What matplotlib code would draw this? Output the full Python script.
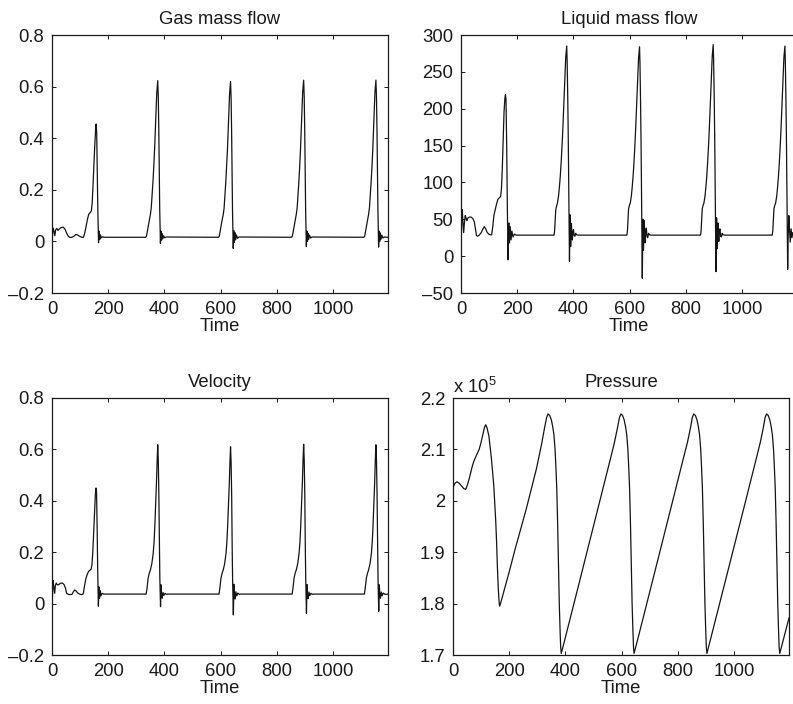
import numpy as np
import matplotlib
matplotlib.use("Agg")
import matplotlib.pyplot as plt
from matplotlib.ticker import FuncFormatter

plt.rcParams['font.family'] = ['Liberation Sans', 'DejaVu Sans']
plt.rcParams['mathtext.default'] = 'regular'

# =====================================================================
#  Data read off the picture : (time, value) pairs
# =====================================================================

gas_flow = [
    # start-up + first spike
    (0, -0.04), (1.5, 0.02), (4, 0.052), (7, 0.04), (10, 0.022), (13, 0.045), (17, 0.05),
    (21, 0.043), (26, 0.048), (33, 0.054), (40, 0.055), (46, 0.048), (52, 0.032), (58, 0.02),
    (64, 0.015), (70, 0.016), (78, 0.02), (85, 0.027), (91, 0.025), (98, 0.02), (106, 0.016),
    (112, 0.016), (117, 0.035), (122, 0.063), (127, 0.09), (131, 0.106), (136, 0.112),
    (140, 0.118), (143, 0.15), (146, 0.22), (149, 0.3), (152, 0.37), (155, 0.43), (157, 0.455),
    (159, 0.42), (161, 0.28), (163, 0.12), (165.5, -0.005), (167.5, 0.04), (170, 0.008),
    (172.5, 0.025), (175.5, 0.014), (180, 0.018), (186, 0.016),
    # cycle 2
    (333, 0.016), (336, 0.02), (340, 0.045), (344, 0.07), (350, 0.105), (353, 0.13), (356, 0.18),
    (359, 0.23), (362, 0.29), (365, 0.36), (368, 0.445), (372.5, 0.574), (376, 0.623),
    (378, 0.56), (380, 0.42), (383, 0.13), (385.6, -0.008), (387.5, 0.04), (389.5, 0.005),
    (391.5, 0.03), (394, 0.01), (397, 0.022), (401, 0.014), (406, 0.017),
    # cycle 3
    (592, 0.016), (595, 0.02), (599, 0.046), (603, 0.071), (609, 0.104), (612, 0.128),
    (615, 0.178), (618, 0.228), (621, 0.288), (624, 0.355), (627, 0.44), (631.5, 0.57),
    (635, 0.62), (637, 0.555), (639, 0.41), (642, 0.12), (644.6, -0.027), (646.5, 0.042),
    (648.5, -0.004), (650.5, 0.034), (653, 0.006), (656, 0.025), (660, 0.012), (665, 0.017),
    # cycle 4
    (852, 0.016), (855, 0.021), (859, 0.045), (863, 0.07), (869, 0.106), (872, 0.131),
    (875, 0.182), (878, 0.232), (881, 0.292), (884, 0.362), (887, 0.448), (891.5, 0.578),
    (895, 0.625), (897, 0.56), (899, 0.415), (902, 0.125), (904.6, -0.02), (906.5, 0.04),
    (908.5, 0.0), (910.5, 0.032), (913, 0.008), (916, 0.024), (920, 0.013), (925, 0.017),
    # cycle 5
    (1109, 0.016), (1112, 0.02), (1116, 0.045), (1120, 0.07), (1126, 0.105), (1129, 0.13),
    (1132, 0.18), (1135, 0.23), (1138, 0.29), (1141, 0.36), (1144, 0.445), (1148.5, 0.575),
    (1152, 0.625), (1154, 0.56), (1156, 0.42), (1159, 0.13), (1161.6, -0.022), (1163.5, 0.04),
    (1165.5, 0.0), (1167.5, 0.033), (1170, 0.008), (1173, 0.024), (1177, 0.013), (1182, 0.017),
    (1195, 0.016),
]

liquid_flow = [
    (0, -30), (1, 20), (2.5, 55), (4.5, 63), (7, 45), (9.5, 32), (12, 45), (15, 55), (18, 52),
    (21, 48), (25, 52), (30, 53), (36, 53), (42, 51), (47, 47), (51, 38), (55, 28), (60, 27),
    (66, 29), (72, 32), (78, 37), (83, 40), (88, 37), (92, 33), (98, 30), (104, 29), (109, 29),
    (113, 40), (117, 55), (121, 62), (126, 70), (131, 77), (136, 79), (141, 81), (144, 92),
    (147, 120), (150, 160), (153, 195), (156, 214), (158, 219), (160, 213), (162.5, 150),
    (165, 60), (167.5, -5), (170, 45), (172.5, 18), (175, 40), (178, 22), (181, 34), (185, 26),
    (190, 30), (196, 28.5),
    # cycle 2
    (331, 28.5), (333, 35), (335, 50), (337, 63), (340, 68), (343, 72), (347, 82), (350, 94),
    (353, 108), (356, 126), (359, 147), (362, 171), (365, 200), (368, 230), (372.5, 270),
    (376, 285), (377.5, 265), (379.6, 216), (381.5, 160), (383, 103), (384.5, 40), (385.8, -7),
    (387, 30), (388, 56), (389, 35), (390, 13), (391.5, 30), (392.7, 44.5), (394, 32), (396, 22),
    (398, 33), (400, 36), (402.5, 28), (405, 27), (408, 31), (411, 29), (416, 28.5),
    # cycle 3
    (590, 28.5), (592, 35), (594, 50), (596, 64), (599, 69), (602, 72), (606, 82), (609, 94),
    (612, 108), (615, 126), (618, 147), (621, 171), (624, 200), (627, 230), (631.5, 269),
    (635, 284), (636.5, 262), (638.6, 210), (640.5, 150), (642, 90), (643.5, 20), (644.8, -30),
    (646, 20), (647, 50), (648, 30), (649, 8), (650.5, 28), (651.7, 48), (653, 33), (655, 18),
    (657, 34), (659, 38), (661.5, 27), (664, 25), (667, 31), (670, 29), (675, 28.5),
    # cycle 4
    (852, 28.5), (854, 35), (856, 50), (858, 64), (861, 69), (864, 72), (868, 82), (871, 94),
    (874, 108), (877, 126), (880, 147), (883, 171), (886, 200), (889, 231), (893.5, 271),
    (897, 287), (898.5, 265), (900.6, 214), (902.5, 155), (904, 95), (905.5, 30), (906.8, -21),
    (908, 25), (909, 52), (910, 32), (911, 10), (912.5, 29), (913.7, 45), (915, 32), (917, 20),
    (919, 34), (921, 37), (923.5, 27), (926, 26), (929, 31), (932, 29), (937, 28.5),
    # cycle 5
    (1107, 28.5), (1109, 35), (1111, 50), (1113, 64), (1116, 69), (1119, 72), (1123, 82),
    (1126, 94), (1129, 108), (1132, 126), (1135, 147), (1138, 171), (1141, 200), (1144, 230),
    (1148.5, 270), (1152, 285), (1153.5, 264), (1155.6, 214), (1157.5, 155), (1159, 95),
    (1160.5, 30), (1161.8, -18), (1163.5, 25), (1166, 55), (1168.5, 35), (1171, 19),
    (1174, 37), (1177, 25), (1180, 32), (1184, 27), (1189, 30), (1195, 28.5),
]

velocity = [
    (0, -0.05), (1.5, 0.03), (4, 0.09), (6.5, 0.065), (9.5, 0.04), (12, 0.07), (15, 0.08),
    (19, 0.073), (24, 0.074), (30, 0.079), (37, 0.08), (43, 0.074), (48, 0.06), (52, 0.04),
    (58, 0.036), (64, 0.035), (71, 0.036), (76, 0.046), (80, 0.053), (85, 0.05), (91, 0.042),
    (98, 0.037), (105, 0.035), (111, 0.037), (115, 0.065), (120, 0.095), (125, 0.113),
    (130, 0.125), (135, 0.13), (139, 0.134), (142, 0.15), (145, 0.2), (148, 0.27), (151, 0.35),
    (154, 0.42), (156.5, 0.45), (158.5, 0.43), (160.5, 0.3), (162.5, 0.13), (165, -0.01),
    (167, 0.065), (169, 0.02), (171.5, 0.05), (174, 0.03), (178, 0.04), (184, 0.037),
    # cycle 2
    (335, 0.037), (338, 0.06), (342, 0.099), (346, 0.118), (350, 0.131), (355, 0.155),
    (360, 0.196), (363, 0.24), (365.6, 0.3), (368.5, 0.38), (371.5, 0.469), (374, 0.56),
    (376, 0.618), (378, 0.56), (380, 0.43), (382, 0.22), (383.5, 0.1), (386, -0.012),
    (388, 0.073), (390, 0.035), (392, 0.021), (395, 0.043), (398, 0.032), (402, 0.04),
    (407, 0.036), (412, 0.037),
    # cycle 3
    (594, 0.037), (597, 0.06), (601, 0.099), (605, 0.118), (609, 0.131), (614, 0.155),
    (619, 0.196), (622, 0.24), (624.6, 0.3), (627.5, 0.38), (630.5, 0.465), (633, 0.555),
    (635, 0.61), (637, 0.55), (639, 0.42), (641, 0.2), (642.5, 0.08), (645, -0.044),
    (647, 0.075), (649, 0.03), (651, 0.018), (654, 0.046), (657, 0.03), (661, 0.041),
    (666, 0.036), (671, 0.037),
    # cycle 4
    (854, 0.037), (857, 0.06), (861, 0.1), (865, 0.119), (869, 0.132), (874, 0.156),
    (879, 0.198), (882, 0.242), (884.6, 0.302), (887.5, 0.383), (890.5, 0.472), (893, 0.563),
    (895, 0.62), (897, 0.56), (899, 0.43), (901, 0.21), (902.5, 0.09), (905, -0.038),
    (907, 0.074), (909, 0.03), (911, 0.02), (914, 0.045), (917, 0.031), (921, 0.04),
    (926, 0.036), (931, 0.037),
    # cycle 5
    (1111, 0.037), (1114, 0.06), (1118, 0.099), (1122, 0.118), (1126, 0.131), (1131, 0.155),
    (1136, 0.196), (1139, 0.24), (1141.6, 0.3), (1144.5, 0.38), (1147.5, 0.469), (1150, 0.56),
    (1152, 0.618), (1154, 0.56), (1156, 0.43), (1158, 0.22), (1159.5, 0.1), (1162, -0.03),
    (1164, 0.073), (1166, 0.035), (1168, 0.021), (1171, 0.045), (1174, 0.03), (1178, 0.041),
    (1184, 0.036), (1195, 0.037),
]

# pressure in units of 1e5
pressure = [
    (0, 2.026), (7, 2.034), (14, 2.037), (22, 2.034), (30, 2.029), (38, 2.024), (45, 2.022),
    (52, 2.032), (60, 2.048), (67, 2.064), (74, 2.077), (83, 2.088), (93, 2.1), (100, 2.114),
    (107, 2.131), (112, 2.143), (116.5, 2.148), (121, 2.142), (128, 2.125), (133, 2.1),
    (137, 2.08), (141, 2.055), (145, 2.03), (149, 1.99), (152, 1.96), (155, 1.92), (158, 1.87),
    (161, 1.83), (164, 1.803), (166, 1.795), (170, 1.802), (180, 1.822), (200, 1.862),
    (220, 1.904), (261, 1.985), (297, 2.063), (315, 2.11), (326, 2.143), (333, 2.162),
    (338, 2.169), (344, 2.166), (350, 2.157), (355, 2.143), (359, 2.128), (363, 2.1),
    (366, 2.065), (369, 2.025), (372, 1.96), (375, 1.88), (378, 1.8), (381, 1.745),
    (383, 1.715), (385, 1.703),
    (400, 1.735), (450, 1.843), (520, 1.995), (560, 2.082), (574, 2.113), (585, 2.142),
    (592, 2.162), (597, 2.169), (603, 2.166), (609, 2.157), (614, 2.143), (618, 2.128),
    (622, 2.1), (625, 2.065), (628, 2.025), (631, 1.96), (634, 1.88), (637, 1.8),
    (640, 1.745), (642, 1.715), (644, 1.703),
    (660, 1.737), (710, 1.845), (780, 1.997), (820, 2.084), (834, 2.114), (845, 2.143),
    (851, 2.162), (856, 2.169), (862, 2.166), (868, 2.157), (873, 2.143), (877, 2.128),
    (881, 2.1), (884, 2.065), (887, 2.025), (890, 1.96), (893, 1.88), (896, 1.8),
    (899, 1.745), (901, 1.715), (903, 1.703),
    (918, 1.735), (970, 1.847), (1040, 1.998), (1079, 2.083), (1093, 2.114), (1104, 2.143),
    (1110, 2.162), (1115, 2.169), (1121, 2.166), (1127, 2.157), (1132, 2.143), (1136, 2.128),
    (1140, 2.1), (1143, 2.065), (1146, 2.025), (1149, 1.96), (1152, 1.88), (1155, 1.8),
    (1158, 1.745), (1160, 1.715), (1162, 1.703),
    (1175, 1.73), (1195, 1.772),
]

x_ticks = [0, 200, 400, 600, 800, 1000]
t_end = 1195

panels = [
    # title, data, yticks, ylim, axes rect in pixels (left, top, right, bottom)
    ("Gas mass flow", gas_flow, [-0.2, 0, 0.2, 0.4, 0.6, 0.8], (-0.2, 0.8), (52, 35, 388, 293)),
    ("Liquid mass flow", liquid_flow, [-50, 0, 50, 100, 150, 200, 250, 300], (-50, 300), (461, 35, 797, 293)),
    ("Velocity", velocity, [-0.2, 0, 0.2, 0.4, 0.6, 0.8], (-0.2, 0.8), (52, 398, 388, 655)),
    ("Pressure", pressure, [1.7, 1.8, 1.9, 2.0, 2.1, 2.2], (1.7, 2.2), (453, 398, 789, 655)),
]

W, H = 793, 704
FS = 13.3
INK = "#1a1a1a"
fig = plt.figure(figsize=(W / 100, H / 100), dpi=100)


def fmt(v, pos):
    s = "%g" % v
    return s.replace("-", "\u2013")


for title, data, yticks, ylim, (l, t, r, b) in panels:
    ax = fig.add_axes([l / W, 1 - b / H, (r - l) / W, (b - t) / H])
    tt = np.array([p[0] for p in data])
    vv = np.array([p[1] for p in data])
    ax.plot(tt, vv, color="#141414", lw=0.9)
    ax.set_xlim(0, t_end)
    ax.set_ylim(*ylim)
    ax.set_xticks(x_ticks)
    ax.set_yticks(yticks)
    ax.yaxis.set_major_formatter(FuncFormatter(fmt))
    ax.tick_params(direction="in", length=3, width=0.7, top=True, right=(r < W),
                   labelsize=FS, colors=INK)
    ax.tick_params(axis="x", pad=5.5)
    ax.tick_params(axis="y", pad=5.5)
    for sp in ax.spines.values():
        sp.set_linewidth(0.9)
        sp.set_color(INK)
    ax.set_title(title, fontsize=FS, pad=8, color=INK)
    ax.set_xlabel("Time", fontsize=FS, labelpad=0, color=INK)
    if title == "Pressure":
        ax.text(0.0, 1.0 + 5 / (b - t), "x 10$^5$", transform=ax.transAxes, ha="left",
                va="baseline", fontsize=FS, color=INK)

fig.savefig("out.png", dpi=100)
